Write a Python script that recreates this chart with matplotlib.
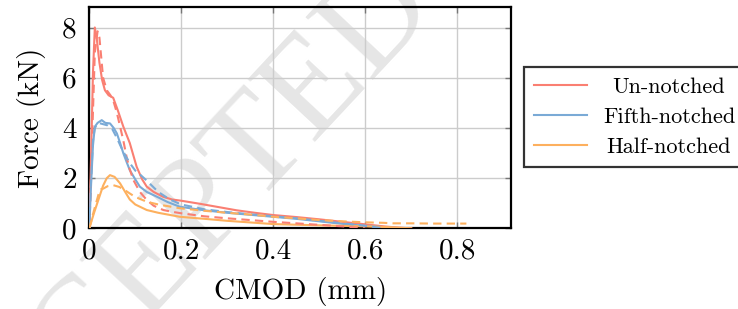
import matplotlib
matplotlib.use("Agg")
import matplotlib.pyplot as plt
from matplotlib.ticker import FuncFormatter

plt.rcParams['font.family'] = 'serif'
plt.rcParams['font.serif'] = ['cmr10']
plt.rcParams['mathtext.fontset'] = 'cm'
plt.rcParams['axes.formatter.use_mathtext'] = True
plt.rcParams['axes.unicode_minus'] = False

# series data (CMOD in mm, force in kN)
un_solid_x = [0, 0.004, 0.008, 0.012, 0.016, 0.022, 0.028, 0.034, 0.042, 0.052, 0.062, 0.074, 0.088, 0.103,
              0.115, 0.125, 0.14, 0.16, 0.18, 0.2, 0.24, 0.28, 0.32, 0.36, 0.4, 0.45, 0.5, 0.55, 0.6, 0.64, 0.67, 0.7]
un_solid_y = [0, 3.0, 6.2, 8.0, 7.6, 6.6, 5.9, 5.5, 5.3, 5.2, 4.7, 4.05, 3.4, 2.45,
              1.95, 1.66, 1.45, 1.26, 1.15, 1.1, 0.98, 0.85, 0.72, 0.62, 0.53, 0.45, 0.36, 0.26, 0.16, 0.08, 0.03, 0.0]

un_dash_x = [0, 0.006, 0.012, 0.018, 0.022, 0.026, 0.03, 0.038, 0.046, 0.052, 0.06, 0.067, 0.074, 0.081, 0.088,
             0.096, 0.11, 0.125, 0.14, 0.161, 0.18, 0.2, 0.25, 0.3, 0.35, 0.4, 0.45, 0.5, 0.55, 0.6]
un_dash_y = [0, 3.5, 7.0, 7.85, 7.6, 6.8, 6.0, 5.5, 5.3, 5.1, 4.6, 4.05, 3.5, 2.85, 2.35,
             1.92, 1.45, 1.13, 0.9, 0.73, 0.66, 0.6, 0.48, 0.4, 0.33, 0.26, 0.2, 0.14, 0.08, 0.0]

fifth_solid_x = [0, 0.004, 0.008, 0.012, 0.018, 0.027, 0.035, 0.045, 0.053, 0.06, 0.067, 0.074, 0.081, 0.088,
                 0.1, 0.11, 0.125, 0.147, 0.17, 0.197, 0.25, 0.3, 0.35, 0.4, 0.45, 0.5, 0.55, 0.6, 0.64, 0.68]
fifth_solid_y = [0, 1.8, 3.3, 4.05, 4.2, 4.31, 4.2, 4.18, 4.0, 3.78, 3.4, 2.99, 2.65, 2.32,
                 1.95, 1.66, 1.45, 1.26, 1.05, 0.86, 0.72, 0.62, 0.54, 0.46, 0.38, 0.28, 0.18, 0.1, 0.05, 0.0]

fifth_dash_x = [0, 0.004, 0.008, 0.012, 0.02, 0.03, 0.04, 0.05, 0.06, 0.07, 0.08, 0.09, 0.1, 0.11, 0.125,
                0.15, 0.175, 0.2, 0.25, 0.3, 0.35, 0.4, 0.45, 0.5, 0.55, 0.6, 0.64]
fifth_dash_y = [0, 2.0, 3.5, 4.0, 4.2, 4.15, 4.1, 3.95, 3.6, 3.2, 2.85, 2.55, 2.3, 2.15, 1.9,
                1.45, 1.15, 0.95, 0.76, 0.65, 0.56, 0.48, 0.4, 0.3, 0.2, 0.1, 0.0]

half_solid_x = [0, 0.01, 0.02, 0.03, 0.038, 0.045, 0.055, 0.067, 0.078, 0.088, 0.1, 0.125, 0.15, 0.197,
                0.25, 0.3, 0.4, 0.5, 0.6, 0.65, 0.7]
half_solid_y = [0, 0.6, 1.15, 1.7, 2.0, 2.12, 2.05, 1.79, 1.45, 1.15, 0.95, 0.73, 0.62, 0.46,
                0.38, 0.3, 0.17, 0.12, 0.08, 0.05, 0.0]

half_dash_x = [0, 0.01, 0.02, 0.025, 0.03, 0.04, 0.052, 0.065, 0.075, 0.088, 0.1, 0.125, 0.15, 0.197,
               0.25, 0.3, 0.35, 0.4, 0.45, 0.5, 0.55, 0.6, 0.64, 0.66, 0.7, 0.75, 0.82]
half_dash_y = [0, 0.7, 1.35, 1.55, 1.58, 1.68, 1.72, 1.65, 1.55, 1.39, 1.25, 1.06, 0.95, 0.8,
               0.7, 0.62, 0.55, 0.46, 0.4, 0.33, 0.28, 0.24, 0.22, 0.2, 0.2, 0.19, 0.19]

labels = ["Un-notched", "Fifth-notched", "Half-notched"]
colors = ["#fa7f72", "#7aaad6", "#fdb05e"]
x_ticks = [0, 0.2, 0.4, 0.6, 0.8]
y_ticks = [0, 2, 4, 6, 8]

fig = plt.figure(figsize=(7.38, 3.09), dpi=100)
ax = fig.add_axes([0.121, 0.261, 0.5714, 0.715])
ax.set_facecolor('none')
ax.set_zorder(2)

# watermark behind the plot
fig.text(0.23, 0.2, "ACCEPTED", fontsize=100, family='Liberation Serif', color='#e6e6e6',
         rotation=47, ha='center', va='center', rotation_mode='anchor', zorder=0)

dash = (0, (4, 2.5))
solid = [(un_solid_x, un_solid_y), (fifth_solid_x, fifth_solid_y), (half_solid_x, half_solid_y)]
dashed = [(un_dash_x, un_dash_y), (fifth_dash_x, fifth_dash_y), (half_dash_x, half_dash_y)]
for (xs, ys), c, lab in zip(solid, colors, labels):
    ax.plot(xs, ys, color=c, lw=1.5, label=lab, zorder=3)
for (xs, ys), c in zip(dashed, colors):
    ax.plot(xs, ys, color=c, lw=1.5, linestyle=dash, zorder=3)

ax.set_xlim(0, 0.917)
ax.set_ylim(0, 8.8)
ax.set_xticks(x_ticks)
ax.set_yticks(y_ticks)
ax.xaxis.set_major_formatter(FuncFormatter(lambda v, p: "%g" % v))
ax.yaxis.set_major_formatter(FuncFormatter(lambda v, p: "%g" % v))
ax.tick_params(direction='in', length=4, width=1, color='#777777', top=True, right=True,
               labelsize=21, pad=7)
ax.tick_params(axis='y', pad=9)
ax.grid(True, color='#cccccc', lw=1)
for s in ax.spines.values():
    s.set_linewidth(1.6)
ax.set_xlabel("CMOD (mm)", fontsize=21, labelpad=9)
ax.set_ylabel("Force (kN)", fontsize=21, labelpad=12)

leg = ax.legend(loc='center left', bbox_to_anchor=(524 / 738, 1 - 117 / 309), bbox_transform=fig.transFigure,
                fontsize=16, frameon=True, fancybox=False, edgecolor='black', handlelength=2.4,
                handletextpad=0.7, borderpad=0.45, labelspacing=0.48, borderaxespad=0)
leg.get_frame().set_linewidth(1.6)

# centre the legend entries like pgfplots does
fig.canvas.draw()
r = fig.canvas.get_renderer()
widths = [t.get_window_extent(r).width for t in leg.get_texts()]
wmax = max(widths)
for t, w in zip(leg.get_texts(), widths):
    t.set_x((wmax - w) / 2)

fig.savefig("out.png", dpi=100)
